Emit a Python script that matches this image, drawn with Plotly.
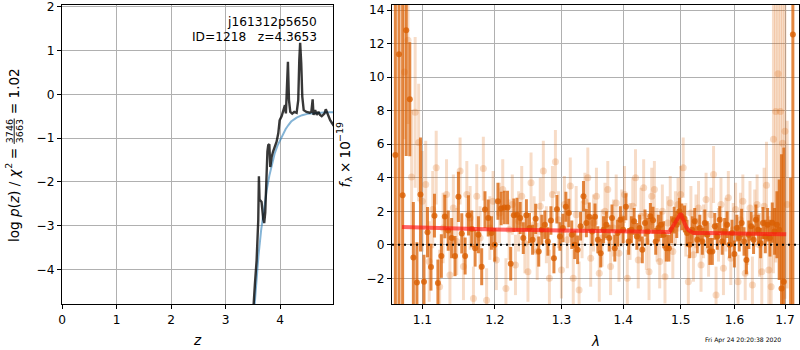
import plotly.graph_objects as go
import math

# ---------------- redshift probability (left panel) ----------------
z_pz = [3.490, 3.505, 3.536, 3.567, 3.597, 3.609, 3.621, 3.633, 3.658, 3.688,
        3.706, 3.725, 3.750, 3.765, 3.780, 3.800, 3.817, 3.842, 3.870, 3.890,
        3.933, 3.964, 3.989, 4.025, 4.062, 4.086, 4.104, 4.120, 4.141, 4.160,
        4.184, 4.220, 4.257, 4.300, 4.330, 4.349, 4.365, 4.385, 4.404, 4.430,
        4.480, 4.540, 4.570, 4.594, 4.610, 4.640, 4.670, 4.700, 4.730, 4.760,
        4.810, 4.835, 4.870, 4.915, 4.957, 4.980]
log_pz = [-5.50, -4.95, -4.33, -3.79, -2.88, -1.87, -2.40, -2.42, -2.46, -2.85,
          -2.94, -2.70, -1.73, -1.30, -1.16, -1.14, -1.66, -1.43, -1.30, -1.24,
          -1.08, -0.89, -0.59, -0.50, -0.36, -0.245, -0.435, -0.05, 0.746, -0.13,
          -0.40, -0.44, -0.40, -0.42, -0.13, 0.785, 1.18, 0.71, -0.05, -0.36,
          -0.40, -0.42, -0.40, -0.115, -0.47, -0.36, -0.47, -0.40, -0.47, -0.50,
          -0.44, -0.34, -0.47, -0.59, -0.67, -0.72]

z_prior = [3.50, 3.53, 3.56, 3.60, 3.65, 3.70, 3.75, 3.80, 3.85, 3.90,
           3.95, 4.00, 4.05, 4.10, 4.15, 4.20, 4.30, 4.40, 4.50, 4.60,
           4.70, 4.80, 4.90, 5.00]
log_prior = [-5.30, -4.75, -4.25, -3.70, -3.10, -2.62, -2.20, -1.86, -1.57, -1.34,
             -1.17, -1.03, -0.90, -0.79, -0.70, -0.62, -0.53, -0.475, -0.445, -0.43,
             -0.42, -0.415, -0.41, -0.41]

pz_xticks = [0, 1, 2, 3, 4]
pz_yticks = [-4, -3, -2, -1, 0, 1, 2]

# ---------------- 1D grism spectrum (right panel) ----------------
wave_a = [1.06500, 1.06965, 1.07430, 1.07895, 1.08360, 1.08825, 1.09290, 1.09755, 1.10220, 1.10685,
          1.11150, 1.11615, 1.12080, 1.12545, 1.13010, 1.13475, 1.13940, 1.14405, 1.14870, 1.15335,
          1.15800, 1.16265, 1.16730, 1.17195, 1.17660, 1.18125, 1.18590, 1.19055, 1.19520, 1.19985,
          1.20450, 1.20915, 1.21380, 1.21845, 1.22310, 1.22775, 1.23240, 1.23705, 1.24170, 1.24635,
          1.25100, 1.25565, 1.26030, 1.26495, 1.26960, 1.27425, 1.27890, 1.28355, 1.28820, 1.29285,
          1.29750, 1.30215, 1.30680, 1.31145, 1.31610, 1.32075, 1.32540, 1.33005, 1.33470, 1.33935,
          1.34400, 1.34865, 1.35330, 1.35795, 1.36260, 1.36725, 1.37190, 1.37655, 1.38120, 1.38585,
          1.39050, 1.39515, 1.39980, 1.40445, 1.40910, 1.41375, 1.41840, 1.42305, 1.42770, 1.43235,
          1.43700, 1.44165, 1.44630, 1.45095, 1.45560, 1.46025, 1.46490, 1.46955, 1.47420, 1.47885,
          1.48350, 1.48815, 1.49280, 1.49745, 1.50210, 1.50675, 1.51140, 1.51605, 1.52070, 1.52535,
          1.53000, 1.53465, 1.53930, 1.54395, 1.54860, 1.55325, 1.55790, 1.56255, 1.56720, 1.57185,
          1.57650, 1.58115, 1.58580, 1.59045, 1.59510, 1.59975, 1.60440, 1.60905, 1.61370, 1.61835,
          1.62300, 1.62765, 1.63230, 1.63695, 1.64160, 1.64625, 1.65090, 1.65555, 1.66020, 1.66485,
          1.66950, 1.67415, 1.67880, 1.68345, 1.68810, 1.69275, 1.69740, 1.70205, 1.70670, 1.71135,
          1.71600]
flux_a = [5.35, 11.36, 2.96, 12.80, 8.68, -0.75, -2.25, 3.00, -2.20, 0.75,
          -1.33, 1.74, -2.28, -0.67, 1.69, 0.85, 0.40, -0.67, 2.86, 0.68,
          -0.67, 1.76, 0.95, -0.20, 0.60, -1.31, 2.10, 1.60, 0.70, 0.00,
          2.60, 2.17, 2.22, 2.22, -1.13, 1.76, 1.80, 1.60, 0.40, 1.77,
          1.00, 0.30, 1.55, -0.40, 0.90, 1.20, 0.20, 1.45, -0.80, 2.12,
          0.50, 1.00, 2.27, 1.90, 0.60, 0.00, -0.30, 1.10, 2.90, 1.30,
          1.67, 0.80, 1.67, 0.30, -0.50, 0.90, 1.20, 0.40, 1.60, -0.20,
          0.70, 1.50, 0.90, 2.27, 0.20, 0.90, 1.40, 0.50, 1.00, -0.30,
          1.30, 0.80, 1.70, 1.47, 0.20, 1.00, 1.20, 0.60, -0.20, -0.20,
          0.90, 1.47, 1.20, 2.00, 1.67, 1.55, 0.70, 0.00, 0.90, 1.40,
          0.30, 1.00, 0.20, 1.30, 0.60, -0.40, -0.40, 1.10, 0.50, 1.50,
          0.20, 0.80, 1.20, 0.00, 0.70, -0.55, 1.00, 0.40, 1.30, 0.20,
          -0.91, 0.60, 1.10, 0.30, 1.50, 0.90, 0.10, 1.30, 0.50, 1.20,
          0.40, 1.32, 0.80, 1.20, 0.90, -2.60, -2.20, None, None, -6.00,
          12.55]
err_a = [30.0, 30.0, 30.0, 7.5, 3.4, 3.3, 2.4, 3.4, 1.6, 1.5,
         1.4, 1.3, 1.4, 1.3, 1.3, 1.2, 1.2, 1.2, 1.5, 1.2,
         1.1, 1.2, 1.1, 1.1, 1.1, 1.1, 1.1, 1.1, 1.0, 1.0,
         1.1, 1.0, 1.0, 1.0, 1.0, 1.0, 1.0, 0.95, 0.95, 0.95,
         0.9, 0.9, 0.9, 0.9, 0.9, 0.85, 0.85, 0.85, 0.9, 0.85,
         0.85, 0.85, 0.9, 0.85, 0.85, 0.85, 0.85, 0.85, 0.9, 0.85,
         0.85, 0.85, 0.8, 0.8, 0.85, 0.8, 0.8, 0.8, 0.8, 0.8,
         0.8, 0.8, 0.8, 0.8, 0.8, 0.8, 0.8, 0.8, 0.8, 0.8,
         0.8, 0.8, 0.8, 0.8, 0.8, 0.8, 0.8, 0.8, 0.8, 0.8,
         0.8, 0.8, 0.8, 0.8, 0.8, 0.8, 0.8, 0.8, 0.8, 0.8,
         0.8, 0.8, 0.8, 0.8, 0.8, 0.8, 0.8, 0.8, 0.8, 0.8,
         0.8, 0.8, 0.8, 0.8, 0.8, 0.8, 0.8, 0.8, 0.85, 0.85,
         0.85, 0.85, 0.85, 0.85, 0.9, 0.9, 0.9, 0.95, 1.0, 1.0,
         1.1, 1.2, 1.4, 2.0, 3.0, 8.0, 8.0, 0.0, 0.0, 10.0,
         30.0]

wave_b = [1.07663, 1.08128, 1.08593, 1.09058, 1.09523, 1.09988, 1.10453, 1.10918, 1.11383, 1.11848,
          1.12313, 1.12778, 1.13243, 1.13708, 1.14173, 1.14638, 1.15103, 1.15568, 1.16033, 1.16498,
          1.16963, 1.17428, 1.17893, 1.18358, 1.18823, 1.19288, 1.19753, 1.20218, 1.20683, 1.21148,
          1.21613, 1.22078, 1.22543, 1.23008, 1.23473, 1.23938, 1.24403, 1.24868, 1.25333, 1.25798,
          1.26263, 1.26728, 1.27193, 1.27658, 1.28123, 1.28588, 1.29053, 1.29518, 1.29983, 1.30448,
          1.30913, 1.31378, 1.31843, 1.32308, 1.32773, 1.33238, 1.33703, 1.34168, 1.34633, 1.35098,
          1.35563, 1.36028, 1.36493, 1.36958, 1.37423, 1.37888, 1.38353, 1.38818, 1.39283, 1.39748,
          1.40213, 1.40678, 1.41143, 1.41608, 1.42073, 1.42538, 1.43003, 1.43468, 1.43933, 1.44398,
          1.44863, 1.45328, 1.45793, 1.46258, 1.46723, 1.47188, 1.47653, 1.48118, 1.48583, 1.49048,
          1.49513, 1.49978, 1.50443, 1.50908, 1.51373, 1.51838, 1.52303, 1.52768, 1.53233, 1.53698,
          1.54163, 1.54628, 1.55093, 1.55558, 1.56023, 1.56488, 1.56953, 1.57418, 1.57883, 1.58348,
          1.58813, 1.59278, 1.59743, 1.60208, 1.60673, 1.61138, 1.61603, 1.62068, 1.62533, 1.62998,
          1.63463, 1.63928, 1.64393, 1.64858, 1.65323, 1.65788, 1.66253, 1.66718, 1.67183, 1.67648,
          1.68113, 1.68578, 1.69043, 1.69508, 1.69973, 1.70438]
flux_b = [10.30, 12.20, 4.05, 7.90, 6.10, 2.60, 3.60, -1.00, 2.10, 4.60,
          -2.50, 1.00, 3.00, -1.80, 2.20, 0.20, 4.40, -1.30, 3.00, 1.60,
          -3.20, 2.90, 0.40, 4.55, -3.30, 1.00, 2.60, -0.90, 1.90, 3.30,
          -2.60, 0.90, 2.40, -1.20, 1.40, 2.90, 0.10, -1.60, 3.70, 1.20,
          -0.40, 2.30, 4.40, 0.60, -2.00, 3.00, 4.95, 1.50, -1.50, 2.40,
          0.30, 3.50, -2.00, 1.80, -2.70, 0.90, 2.60, 4.00, -0.80, 1.30,
          2.90, -1.70, 0.40, 2.00, 3.30, -1.30, 1.00, 2.50, -0.50, 1.60,
          3.00, -2.00, 0.80, 2.30, 4.00, -0.90, 1.70, 3.40, 0.20, -1.60,
          2.90, 3.30, 0.60, -1.00, 2.00, -1.90, 1.30, 2.50, -0.40, 1.60,
          2.40, 3.00, 4.60, 0.90, -2.20, 1.90, -0.60, 1.40, 2.20, -1.20,
          0.80, 2.70, -0.30, 1.80, 4.20, -3.00, 0.60, 2.40, -1.40, 1.20,
          2.80, -0.80, 0.90, 2.10, -2.20, 1.50, 2.60, -1.70, 0.40, 2.20,
          -2.40, 1.60, 2.40, 0.00, -1.60, 2.30, 3.55, -1.50, -2.50, 6.30,
          7.95, 10.20, 7.95, 6.05, 6.78, 2.40]
err_b = [4.0, 5.0, 4.0, 4.5, 3.5, 3.0, 2.6, 2.4, 2.3, 2.2,
         2.2, 2.1, 2.1, 2.0, 2.0, 2.0, 2.0, 2.0, 2.0, 1.9,
         1.9, 1.9, 1.9, 1.9, 1.9, 1.9, 1.8, 1.8, 1.8, 1.8,
         1.8, 1.8, 1.8, 1.8, 1.8, 1.8, 1.8, 1.8, 1.8, 1.7,
         1.7, 1.7, 1.8, 1.7, 1.7, 1.7, 1.9, 1.7, 1.7, 1.7,
         1.7, 1.7, 1.7, 1.7, 1.7, 1.7, 1.7, 1.8, 1.7, 1.7,
         1.7, 1.7, 1.7, 1.7, 1.7, 1.7, 1.7, 1.7, 1.7, 1.7,
         1.7, 1.7, 1.7, 1.7, 1.7, 1.7, 1.7, 1.7, 1.7, 1.7,
         1.7, 1.7, 1.6, 1.6, 1.6, 1.6, 1.6, 1.6, 1.6, 1.6,
         1.6, 1.7, 1.8, 1.6, 1.6, 1.6, 1.6, 1.6, 1.6, 1.6,
         1.6, 1.6, 1.6, 1.6, 1.7, 1.7, 1.6, 1.6, 1.6, 1.6,
         1.6, 1.6, 1.6, 1.6, 1.6, 1.6, 1.6, 1.6, 1.6, 1.6,
         1.7, 1.7, 1.8, 1.9, 2.1, 2.3, 2.6, 3.2, 4.5, 8.0,
         9.0, 9.0, 10.0, 10.0, 10.0, 5.0]

wave_model = [1.0735, 1.10, 1.15, 1.20, 1.25, 1.30, 1.35, 1.40, 1.45, 1.480,
              1.485, 1.490, 1.495, 1.500, 1.503, 1.506, 1.510, 1.514, 1.518, 1.523,
              1.550, 1.600, 1.650, 1.7023]
flux_model = [1.06, 1.02, 0.96, 0.92, 0.88, 0.85, 0.82, 0.80, 0.785, 0.77,
              1.05, 1.32, 1.60, 1.87, 1.60, 1.32, 1.05, 0.87, 0.77, 0.71,
              0.70, 0.68, 0.66, 0.63]

spec_xticks = [1.1, 1.2, 1.3, 1.4, 1.5, 1.6, 1.7]
spec_yticks = [-2, 0, 2, 4, 6, 8, 10, 12, 14]


def tick_text(vals):
    return [str(v).replace("-", "\u2212") for v in vals]


W, H = 800, 350
FONT = "DejaVu Sans"
FS = 12.2          # tick labels and in-panel text
FS_LAB = 13.6      # axis labels
FS_SMALL = 9.5     # scripts and fraction in axis labels
ORANGE = "217,95,2"

fig = go.Figure()

# p(z) and prior
fig.add_trace(go.Scatter(x=z_prior, y=log_prior, mode="lines",
                         line=dict(color="rgba(31,119,180,0.55)", width=2),
                         xaxis="x", yaxis="y", hoverinfo="skip"))
fig.add_trace(go.Scatter(x=z_pz, y=log_pz, mode="lines",
                         line=dict(color="rgba(0,0,0,0.78)", width=2.4),
                         xaxis="x", yaxis="y", hoverinfo="skip"))

# second grism spectrum (faint)
fig.add_trace(go.Scatter(x=wave_b, y=flux_b, mode="markers",
                         marker=dict(size=7, color=f"rgba({ORANGE},0.22)", line=dict(width=0)),
                         error_y=dict(type="data", array=err_b, visible=True, thickness=3,
                                      width=0, color=f"rgba({ORANGE},0.22)"),
                         xaxis="x2", yaxis="y2", hoverinfo="skip"))
# primary grism spectrum
fig.add_trace(go.Scatter(x=wave_a, y=flux_a, mode="markers",
                         marker=dict(size=6, color=f"rgba({ORANGE},0.8)", line=dict(width=0)),
                         error_y=dict(type="data", array=err_a, visible=True, thickness=3,
                                      width=0, color=f"rgba({ORANGE},0.75)"),
                         xaxis="x2", yaxis="y2", hoverinfo="skip"))
# best-fit model
fig.add_trace(go.Scatter(x=wave_model, y=flux_model, mode="lines",
                         line=dict(color="rgba(255,20,20,0.65)", width=4),
                         xaxis="x2", yaxis="y2", hoverinfo="skip"))

axis_common = dict(showgrid=True, gridcolor="#b0b0b0", gridwidth=1, zeroline=False,
                   showline=True, mirror=True, linecolor="black", linewidth=1,
                   ticks="outside", ticklen=4, tickwidth=1, tickcolor="black",
                   automargin=False,
                   tickfont=dict(family=FONT, size=FS, color="black"))

y_dom = [46 / H, 1 - 4.7 / H]
fig.update_layout(
    width=W, height=H, margin=dict(l=0, r=0, t=0, b=0, pad=0),
    paper_bgcolor="white", plot_bgcolor="white", showlegend=False,
    font=dict(family=FONT, size=FS, color="black"),
    xaxis=dict(domain=[62 / W, 333 / W], range=[0, 4.967], anchor="y",
               tickvals=pz_xticks, ticktext=tick_text(pz_xticks), **axis_common),
    yaxis=dict(domain=y_dom, range=[-4.79, 2.05], anchor="x",
               tickvals=pz_yticks, ticktext=tick_text(pz_yticks), **axis_common),
    xaxis2=dict(domain=[392 / W, 799 / W], type="log",
                range=[math.log10(1.0607), math.log10(1.7287)], anchor="y2",
                tickvals=spec_xticks, ticktext=[f"{v:.1f}" for v in spec_xticks], **axis_common),
    yaxis2=dict(domain=y_dom, range=[-3.53, 14.32], anchor="x2",
                tickvals=spec_yticks, ticktext=tick_text(spec_yticks), **axis_common),
)

# zero level
fig.add_shape(type="line", xref="x2 domain", x0=0, x1=1, yref="y2", y0=0, y1=0,
              line=dict(color="black", width=2, dash="2px,4px"), layer="above")


def ann(text, x, y, size=FS, angle=0, xanchor="center", yanchor="middle"):
    fig.add_annotation(text=text, x=x / W, y=1 - y / H, xref="paper", yref="paper",
                       showarrow=False, textangle=angle, xanchor=xanchor, yanchor=yanchor,
                       font=dict(family=FONT, size=size, color="black"))


ann("j161312p5650", 318.5, 22, xanchor="right")
ann("ID=1218\u00a0\u00a0\u00a0z=4.3653", 318.5, 36.7, xanchor="right")
ann("<i>z</i>", 197.5, 340, size=FS_LAB)
ann("<i>λ</i>", 595.5, 341, size=FS_LAB)

# left y label, laid out piece by piece (text runs bottom to top)
ann("log <i>p</i>(<i>z</i>) / <i>χ</i>", 13.5, 205.6, size=FS_LAB, angle=-90)
ann("2", 8.5, 166.2, size=FS_SMALL, angle=-90)
ann("=", 13.5, 153.7, size=FS_LAB, angle=-90)
ann("3746", 9.0, 131.2, size=FS_SMALL, angle=-90)
ann("3663", 19.0, 131.2, size=FS_SMALL, angle=-90)
fig.add_shape(type="line", xref="paper", yref="paper",
              x0=14.2 / W, x1=14.2 / W, y0=1 - 118.5 / H, y1=1 - 144 / H,
              line=dict(color="black", width=0.9))
ann("=", 13.5, 108.7, size=FS_LAB, angle=-90)
ann("1.02", 13.5, 84.0, size=FS_LAB, angle=-90)

# right y label
ann("<i>f</i>", 345, 184.6, size=FS_LAB, angle=-90)
ann("λ", 348.5, 179.4, size=FS_SMALL, angle=-90)
ann("×", 345, 167.9, size=FS_LAB, angle=-90)
ann("10", 345, 150.5, size=FS_LAB, angle=-90)
ann("−19", 340.0, 131.9, size=FS_SMALL, angle=-90)

ann("Fri Apr 24 20:20:38 2020", 743.3, 339.5, size=6.1)

fig.write_html("out.html")
